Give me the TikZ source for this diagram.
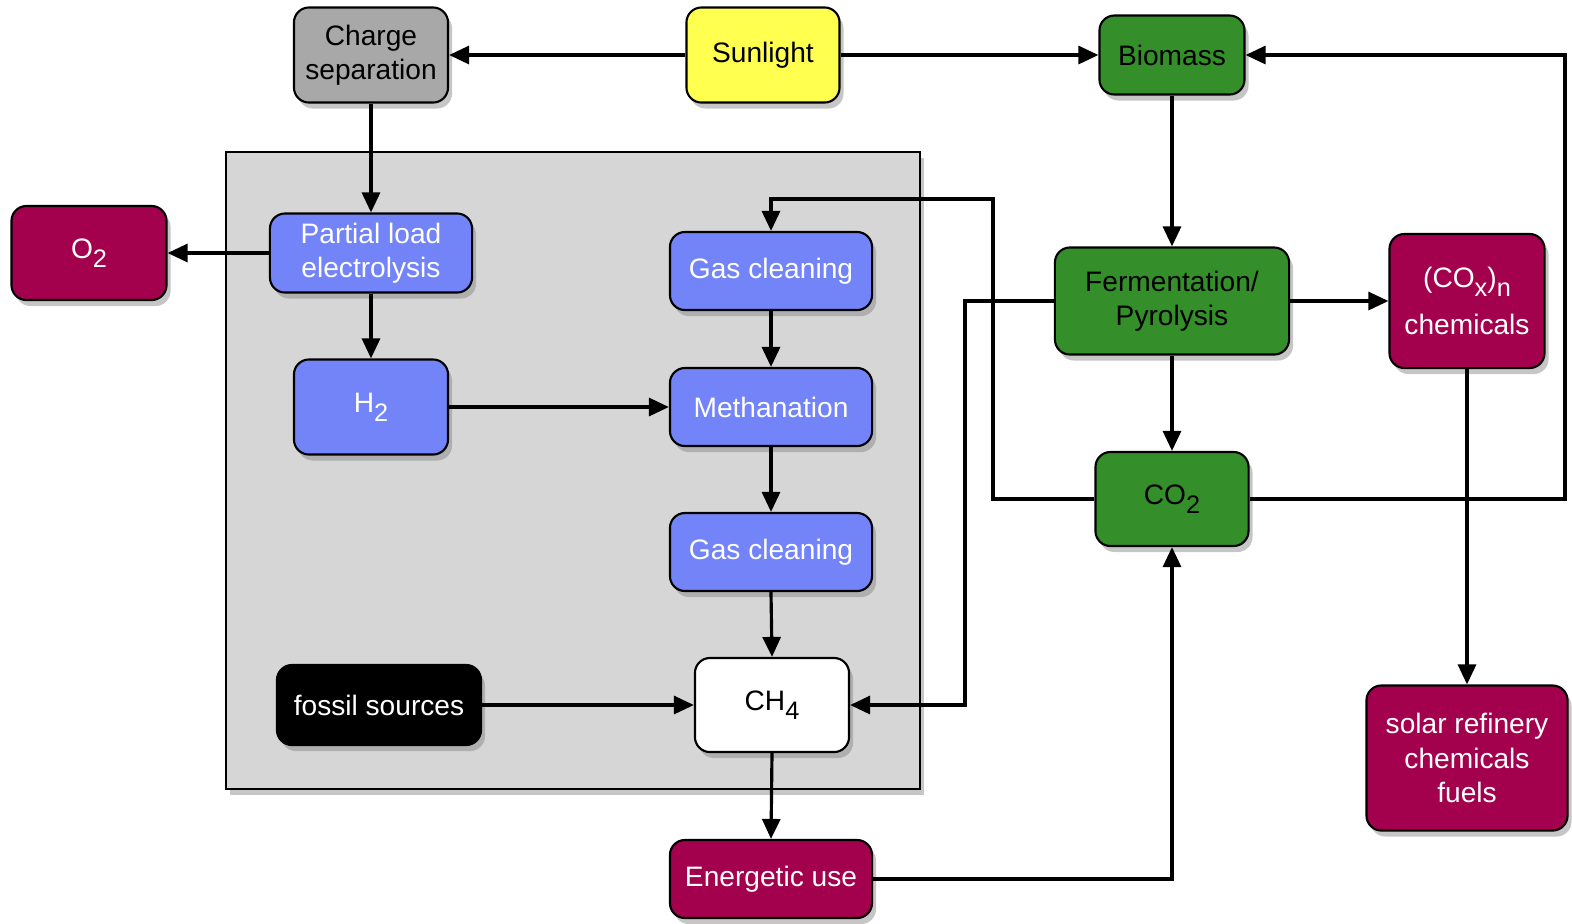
\documentclass[tikz,border=0pt]{standalone}
\usepackage{fontspec}
\setmainfont{Liberation Sans}
\usetikzlibrary{arrows.meta,shadows}
\definecolor{cgray}{HTML}{A8A8A8}
\definecolor{cyellow}{HTML}{FFFF4F}
\definecolor{cgreen}{HTML}{348F2A}
\definecolor{cmagenta}{HTML}{A3004D}
\definecolor{cblue}{HTML}{7383F8}
\definecolor{cpanel}{HTML}{D6D6D6}
\newcommand{\lowsub}[1]{\raisebox{-0.6ex}{\fontsize{7.2}{8}\selectfont #1}}
\tikzset{
  box/.style={draw=black, line width=0.6pt, rounded corners=1.5mm, align=center, inner sep=0pt,
    font=\fontsize{8}{9.7}\selectfont,
    drop shadow={shadow xshift=0.4mm, shadow yshift=-0.6mm, opacity=0.45}},
  graybox/.style={box, fill=cgray, text=black},
  sunbox/.style={box, fill=cyellow, text=black},
  greenbox/.style={box, fill=cgreen, text=black},
  outbox/.style={box, fill=cmagenta, text=white},
  bluebox/.style={box, fill=cblue, text=white},
  flow/.style={line width=0.9pt, -{Triangle[length=2mm,width=1.8mm]}},
}
\begin{document}
\begin{tikzpicture}[line join=miter,x=0.01cm,y=-0.01cm]
	\useasboundingbox (0,0) rectangle (1572,923);
	% panel
	\draw [fill=cpanel, line width=0.7pt, drop shadow={shadow xshift=0.4mm, shadow yshift=-0.6mm, opacity=0.45}] (226,152) rectangle (920,789);
	% nodes
	\node[graybox, minimum width=1.54cm, minimum height=0.95cm] (charge) at (371,55) {Charge\\separation};
	\node[sunbox, minimum width=1.53cm, minimum height=0.95cm] (sun) at (763,55) {Sunlight};
	\node[greenbox, minimum width=1.45cm, minimum height=0.79cm] (bio) at (1172,55) {Biomass};
	\node[outbox, minimum width=1.55cm, minimum height=0.94cm] (o2) at (89,253) {O\lowsub{2}};
	\node[bluebox, minimum width=2.02cm, minimum height=0.79cm] (pel) at (371,253) {Partial load\\electrolysis};
	\node[bluebox, minimum width=2.02cm, minimum height=0.78cm] (gc1) at (771,271) {Gas cleaning};
	\node[greenbox, minimum width=2.34cm, minimum height=1.07cm] (ferm) at (1172,301) {Fermentation/\\Pyrolysis};
	\node[outbox, minimum width=1.55cm, minimum height=1.34cm] (cox) at (1467,301) {(CO\lowsub{x})\lowsub{n}\\[1.3mm]chemicals};
	\node[bluebox, minimum width=1.54cm, minimum height=0.95cm] (h2) at (371,407) {H\lowsub{2}};
	\node[bluebox, minimum width=2.02cm, minimum height=0.78cm] (meth) at (771,407) {Methanation};
	\node[greenbox, minimum width=1.53cm, minimum height=0.94cm] (co2) at (1172,499) {CO\lowsub{2}};
	\node[bluebox, minimum width=2.02cm, minimum height=0.78cm] (gc2) at (771,552) {Gas cleaning};
	\node[box, fill=black, text=white, minimum width=2.04cm, minimum height=0.80cm] (fossil) at (379,705) {fossil sources};
	\node[box, fill=white, text=black, minimum width=1.54cm, minimum height=0.94cm] (ch4) at (772,705) {CH\lowsub{4}};
	\node[outbox, minimum width=2.02cm, minimum height=0.78cm] (use) at (771,879) {Energetic use};
	\node[outbox, minimum width=2.01cm, minimum height=1.45cm] (ref) at (1467,758) {solar refinery\\chemicals\\fuels};
	% bends
	\coordinate (fbend) at (965,705);
	\coordinate (cbend) at (993,199);
	\coordinate (rbend) at (1565,55);
	% connectors
	\draw[flow] (sun.west) -- (charge.east);
	\draw[flow] (sun.east) -- (bio.west);
	\draw[flow] (charge.south) -- (pel.north);
	\draw[flow] (pel.west) -- (o2.east);
	\draw[flow] (pel.south) -- (h2.north);
	\draw[flow] (h2.east) -- (meth.west);
	\draw[flow] (gc1.south) -- (meth.north);
	\draw[flow] (meth.south) -- (gc2.north);
	\draw[flow] (gc2.south) -- (ch4.north);
	\draw[flow] (fossil.east) -- (ch4.west);
	\draw[flow] (ch4.south) -- (use.north);
	\draw[flow] (bio.south) -- (ferm.north);
	\draw[flow] (ferm.east) -- (cox.west);
	\draw[flow] (ferm.south) -- (co2.north);
	\draw[flow] (ferm.west) -| (fbend) -- (ch4.east);
	\draw[flow] (co2.west) -| (cbend) -| (gc1.north);
	\draw[flow] (co2.east) -| (rbend) -- (bio.east);
	\draw[flow] (cox.south) -- (ref.north);
	\draw[flow] (use.east) -| (co2.south);
\end{tikzpicture}
\end{document}
